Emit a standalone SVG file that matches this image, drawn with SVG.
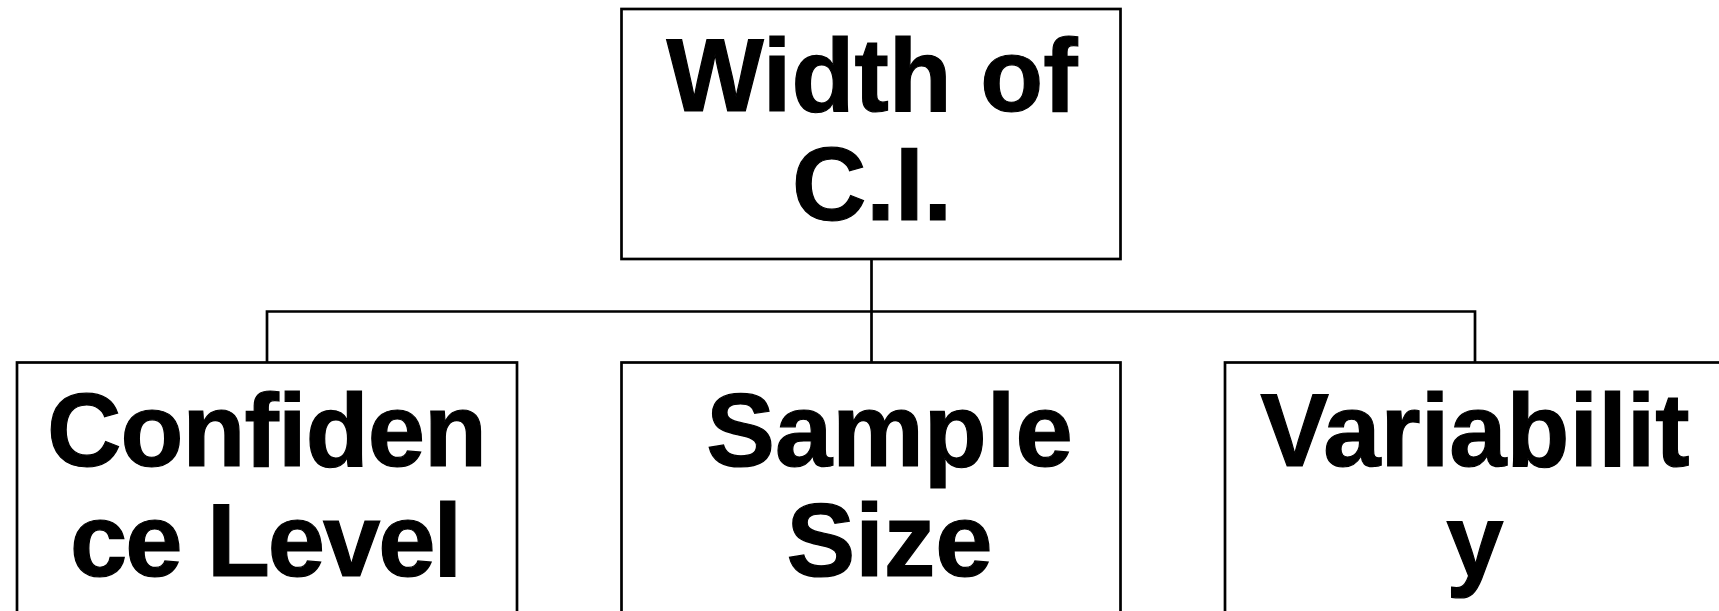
<svg xmlns="http://www.w3.org/2000/svg" width="1719" height="611" viewBox="0 0 1719 611">
  <style>
    .box { fill: #ffffff; stroke: #000000; stroke-width: 2.7; }
    .link { fill: none; stroke: #000000; stroke-width: 2.7; }
    .label { font-family: "Liberation Sans", Arial, sans-serif; font-weight: bold; font-size: 103px; fill: #000000; stroke: #000000; stroke-width: 1.2; text-anchor: middle; }
  </style>
  <rect width="1719" height="611" fill="#ffffff"/>

  <!-- tree connectors -->
  <g id="connectors">
    <path class="link" d="M871.5 259 V311.5"/>
    <path class="link" d="M267 362.5 V311.5 H1475 V362.5"/>
    <path class="link" d="M871.5 311.5 V362.5"/>
  </g>

  <g id="node-width">
    <rect class="box" x="621.5" y="9" width="499" height="250"/>
    <text class="label" x="872" y="111">Width of</text>
    <text class="label" x="872" y="220">C.I.</text>
  </g>

  <g id="node-confidence">
    <rect class="box" x="17" y="362.5" width="500" height="270"/>
    <text class="label" x="267" y="466" textLength="440">Confiden</text>
    <text class="label" x="266" y="576" textLength="392">ce Level</text>
  </g>

  <g id="node-sample">
    <rect class="box" x="621.5" y="362.5" width="499" height="270"/>
    <text class="label" x="889.5" y="466">Sample</text>
    <text class="label" x="889.5" y="576">Size</text>
  </g>

  <g id="node-variability">
    <rect class="box" x="1225" y="362.5" width="500" height="270"/>
    <text class="label" x="1475" y="466">Variabilit</text>
    <text class="label" x="1475" y="576">y</text>
  </g>
</svg>
